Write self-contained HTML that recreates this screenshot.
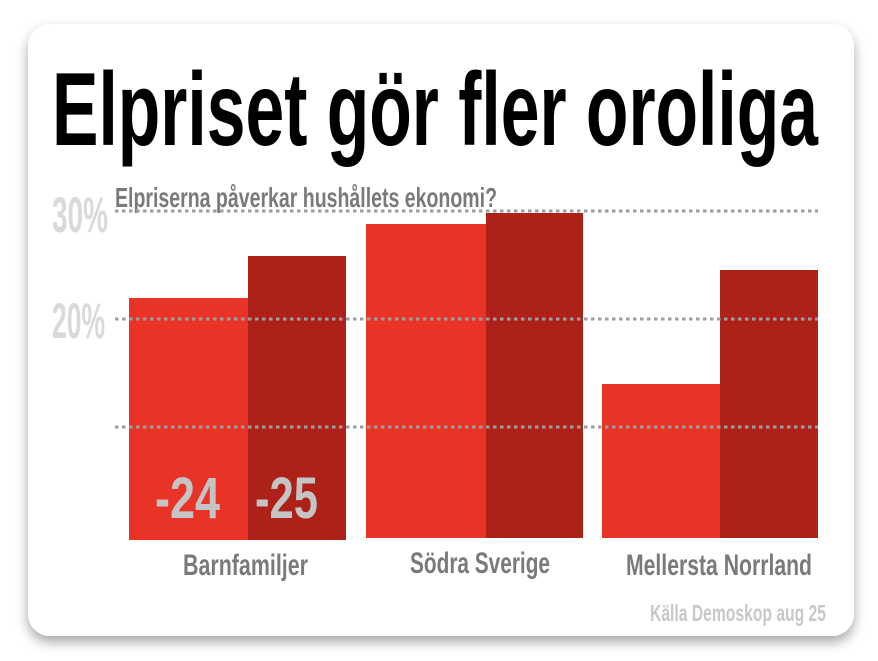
<!DOCTYPE html>
<html><head><style>
html,body{margin:0;padding:0;background:#fff;}
body{width:878px;height:656px;overflow:hidden;}
</style></head><body>
<svg width="878" height="656" viewBox="0 0 878 656" xmlns="http://www.w3.org/2000/svg" font-family="Liberation Sans, sans-serif" font-weight="bold">
<defs>
<filter id="sh" x="-10%" y="-10%" width="120%" height="125%">
<feDropShadow dx="0" dy="6" stdDeviation="6" flood-color="#000" flood-opacity="0.35"/>
</filter>
</defs>
<rect x="0" y="0" width="878" height="656" fill="#fff"/>
<rect x="28" y="24" width="826" height="612" rx="22" fill="#fff" filter="url(#sh)"/>
<text x="52" y="145" font-size="104" fill="#000" textLength="766" lengthAdjust="spacingAndGlyphs">Elpriset gör fler oroliga</text>
<text x="52" y="232" font-size="50" fill="#d9d9d9" textLength="56" lengthAdjust="spacingAndGlyphs">30%</text>
<text x="52" y="338" font-size="50" fill="#d9d9d9" textLength="53" lengthAdjust="spacingAndGlyphs">20%</text>
<text x="115" y="207" font-size="28" fill="#7a7a7a" textLength="382" lengthAdjust="spacingAndGlyphs">Elpriserna påverkar hushållets ekonomi?</text>
<g fill="#e83326">
<rect x="129" y="298" width="119" height="242"/>
<rect x="366" y="224" width="120" height="314"/>
<rect x="602" y="384" width="118" height="154"/>
</g>
<g fill="#ae2119">
<rect x="248" y="256" width="98" height="284"/>
<rect x="486" y="213" width="97" height="325"/>
<rect x="720" y="270" width="98" height="268"/>
</g>
<g stroke="#9e9e9e" stroke-width="3" stroke-dasharray="3.5 3.5">
<line x1="115" y1="211" x2="818" y2="211"/>
<line x1="115" y1="319" x2="818" y2="319"/>
<line x1="115" y1="427" x2="818" y2="427"/>
</g>
<text x="155" y="518" font-size="58" fill="#c4c4c4" textLength="65" lengthAdjust="spacingAndGlyphs">-24</text>
<text x="255" y="518" font-size="58" fill="#c4c4c4" textLength="63" lengthAdjust="spacingAndGlyphs">-25</text>
<g font-size="30" fill="#7a7a7a">
<text x="183" y="575" textLength="125" lengthAdjust="spacingAndGlyphs">Barnfamiljer</text>
<text x="410" y="573" textLength="140" lengthAdjust="spacingAndGlyphs">Södra Sverige</text>
<text x="626" y="575" textLength="186" lengthAdjust="spacingAndGlyphs">Mellersta Norrland</text>
</g>
<text x="650" y="621" font-size="23" fill="#c8c8c8" textLength="176" lengthAdjust="spacingAndGlyphs">Källa Demoskop aug 25</text>
</svg>
</body></html>
